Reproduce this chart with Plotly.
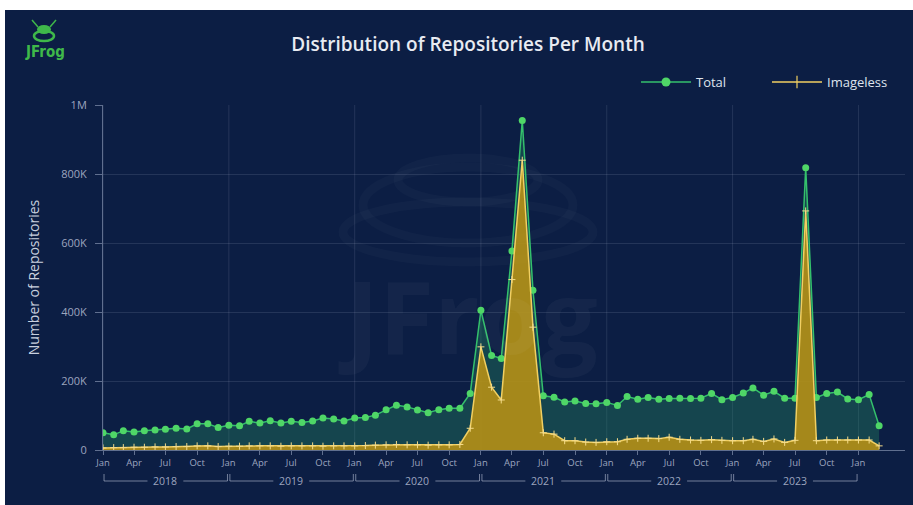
import pandas as pd
import plotly.graph_objects as go

# Monthly repository counts (thousands), Jan 2018 - Mar 2024
months = pd.date_range("2018-01-01", "2024-03-01", freq="MS")
total_k = [
    50, 44, 56, 52, 56, 58, 60, 63, 61, 76, 76, 65,          # 2018
    72, 70, 83, 78, 85, 78, 83, 80, 84, 93, 90, 84,          # 2019
    93, 94, 101, 117, 130, 125, 116, 108, 117, 121, 121, 164,  # 2020
    405, 274, 265, 577, 955, 463, 157, 153, 139, 142, 135, 134,  # 2021
    138, 129, 155, 147, 152, 147, 149, 150, 149, 150, 164, 146,  # 2022
    152, 165, 180, 159, 170, 150, 150, 818, 152, 164, 168, 148,  # 2023
    146, 161, 70,                                              # 2024
]
imageless_k = [
    6, 7, 7, 8, 8, 9, 9, 10, 10, 12, 12, 10,
    11, 11, 12, 12, 12, 11, 12, 12, 12, 11, 12, 12,
    12, 13, 14, 15, 16, 15, 15, 14, 15, 15, 16, 63,
    299, 182, 145, 494, 840, 356, 50, 46, 27, 27, 23, 22,
    24, 24, 31, 34, 34, 33, 37, 31, 29, 28, 30, 28,
    27, 27, 31, 25, 32, 22, 28, 693, 27, 29, 29, 29,
    29, 29, 12,
]
total = [v * 1000 for v in total_k]
imageless = [v * 1000 for v in imageless_k]

years = [2018, 2019, 2020, 2021, 2022, 2023]
x_tickvals = pd.date_range("2018-01-01", "2024-01-01", freq="QS")
y_tickvals = [0, 200000, 400000, 600000, 800000, 1000000]
y_ticktext = ["0", "200K", "400K", "600K", "800K", "1M"]

# Figure geometry (pixels) and helpers to place decorations in paper space
W, H = 913, 505
ML, MR, MT, MB = 103, 8, 105, 55
PW, PH = W - ML - MR, H - MT - MB


def px_x(px):
    return (px - ML) / PW


def px_y(py):
    return (H - MB - py) / PH


NAVY = "#0c1e44"
GRID = "rgba(200,210,235,0.13)"
AXIS = "rgba(200,210,235,0.45)"
TICK_COLOR = "rgba(205,212,230,0.75)"
GREEN_LINE, GREEN_MARK = "#34c06c", "#4fd667"
GOLD_LINE, GOLD_MARK = "#f1cf62", "#f5dc8a"

fig = go.Figure()

fig.add_trace(go.Scatter(
    x=months, y=total, name="Total", mode="lines+markers",
    line=dict(color=GREEN_LINE, width=1.5),
    marker=dict(color=GREEN_MARK, size=7),
    fill="tozeroy", fillcolor="rgba(38,150,100,0.33)",
    showlegend=False, legendgroup="total",
))
fig.add_trace(go.Scatter(
    x=months, y=imageless, name="Imageless", mode="lines+markers",
    line=dict(color=GOLD_LINE, width=1.5),
    marker=dict(symbol="cross-thin", size=5, color=GOLD_MARK,
                line=dict(color=GOLD_MARK, width=1)),
    fill="tozeroy", fillcolor="rgba(186,146,20,0.88)",
    showlegend=False, legendgroup="imageless",
))
# legend keys drawn as plain line + marker, one legend box each
fig.add_trace(go.Scatter(
    x=[None], y=[None], name="Total", mode="lines+markers",
    line=dict(color=GREEN_LINE, width=1.5),
    marker=dict(color=GREEN_MARK, size=9), legendgroup="total",
    legend="legend",
))
fig.add_trace(go.Scatter(
    x=[None], y=[None], name="Imageless", mode="lines+markers",
    line=dict(color=GOLD_LINE, width=1.5),
    marker=dict(symbol="line-ns", size=9, color=GOLD_LINE,
                line=dict(color=GOLD_LINE, width=1.2)),
    legendgroup="imageless", legend="legend2",
))

shapes = []
# dark card background with a thin white edge at top and left
shapes.append(dict(type="rect", xref="paper", yref="paper",
                   x0=px_x(5), x1=px_x(W + 2), y0=px_y(10), y1=px_y(H + 2),
                   fillcolor=NAVY, line=dict(width=0), layer="below"))

# faint watermark rings
for cx, cy, rx, ry in [(468, 205, 105, 38), (468, 232, 125, 30), (468, 180, 70, 22)]:
    shapes.append(dict(type="circle", xref="paper", yref="paper",
                       x0=px_x(cx - rx), x1=px_x(cx + rx),
                       y0=px_y(cy + ry), y1=px_y(cy - ry),
                       line=dict(color="rgba(255,255,255,0.022)", width=9),
                       layer="below"))

# yearly vertical grid lines
for yr in years + [2024]:
    shapes.append(dict(type="line", xref="x", yref="paper",
                       x0=f"{yr}-01-01", x1=f"{yr}-01-01", y0=0, y1=1,
                       line=dict(color=GRID, width=1), layer="below"))

# year group brackets under the month labels
yb = px_y(481)
yt = px_y(474)
bracket = dict(color="rgba(200,208,228,0.55)", width=1)
for yr in years:
    s, e = f"{yr}-01-04", f"{yr}-12-28"
    for a, b in [(s, f"{yr}-05-10"), (f"{yr}-08-22", e)]:
        shapes.append(dict(type="line", xref="x", yref="paper",
                           x0=a, x1=b, y0=yb, y1=yb, line=bracket))
    for d in (s, e):
        shapes.append(dict(type="line", xref="x", yref="paper",
                           x0=d, x1=d, y0=yb, y1=yt, line=bracket))

# small frog mark in the corner
LOGO = "#3fb84a"
shapes.append(dict(type="circle", xref="paper", yref="paper",
                   x0=px_x(34), x1=px_x(54), y0=px_y(41), y1=px_y(31),
                   line=dict(color=LOGO, width=2.5)))
shapes.append(dict(type="circle", xref="paper", yref="paper",
                   x0=px_x(37), x1=px_x(51), y0=px_y(34), y1=px_y(25),
                   fillcolor=LOGO, line=dict(width=0)))
for x0, x1 in [(32, 38), (56, 50)]:
    shapes.append(dict(type="line", xref="paper", yref="paper",
                       x0=px_x(x0), x1=px_x(x1), y0=px_y(20), y1=px_y(27),
                       line=dict(color=LOGO, width=1.5)))

annotations = [
    dict(text="JFrog", xref="paper", yref="paper", x=px_x(468), y=px_y(315),
         xanchor="center", showarrow=False,
         font=dict(family="Open Sans", size=100,
                   color="rgba(255,255,255,0.035)", weight=700)),
    dict(text="JFrog", xref="paper", yref="paper", x=px_x(45), y=px_y(52),
         xanchor="center", yanchor="middle", showarrow=False,
         font=dict(family="DejaVu Sans Condensed, Noto Sans", size=15,
                   color=LOGO, weight=700)),
]
for yr in years:
    annotations.append(dict(text=str(yr), xref="x", yref="paper",
                            x=f"{yr}-07-01", y=yb, xanchor="center", yanchor="middle",
                            showarrow=False,
                            font=dict(family="Open Sans", size=10.5, color=TICK_COLOR)))

legend_style = dict(orientation="h", yanchor="middle", y=px_y(82), xanchor="left",
                    font=dict(size=13, color="#dfe4ee"), bgcolor="rgba(0,0,0,0)",
                    itemwidth=50)

fig.update_layout(
    width=W, height=H,
    margin=dict(l=ML, r=MR, t=MT, b=MB, autoexpand=False),
    paper_bgcolor="white",
    plot_bgcolor=NAVY,
    font=dict(family="Open Sans", color="#dfe4ee"),
    title=dict(text="Distribution of Repositories Per Month",
               x=px_x(468), xref="paper", xanchor="center",
               y=1 - 44 / H, yref="container", yanchor="middle",
               font=dict(family="Open Sans", size=19, color="#e8ebf2", weight=600)),
    legend=dict(legend_style, x=px_x(636)),
    legend2=dict(legend_style, x=px_x(767)),
    xaxis=dict(
        type="date", range=["2018-01-01", "2024-05-15"],
        tickvals=x_tickvals, tickformat="%b",
        showgrid=False, showline=True, linecolor=AXIS,
        ticks="outside", ticklen=4, tickcolor=AXIS,
        tickfont=dict(size=9.5, color=TICK_COLOR),
        zeroline=False,
    ),
    yaxis=dict(
        range=[0, 1000000], tickvals=y_tickvals, ticktext=y_ticktext,
        showgrid=True, gridcolor=GRID, zeroline=False,
        showline=True, linecolor=AXIS,
        ticks="outside", ticklen=7, tickcolor=AXIS, ticklabelstandoff=6,
        tickfont=dict(size=11, color=TICK_COLOR),
        title=dict(text="Number of Repositories", standoff=18,
                   font=dict(size=14, color="#c9d0df")),
    ),
    shapes=shapes,
    annotations=annotations,
)

fig.write_html("out.html")
